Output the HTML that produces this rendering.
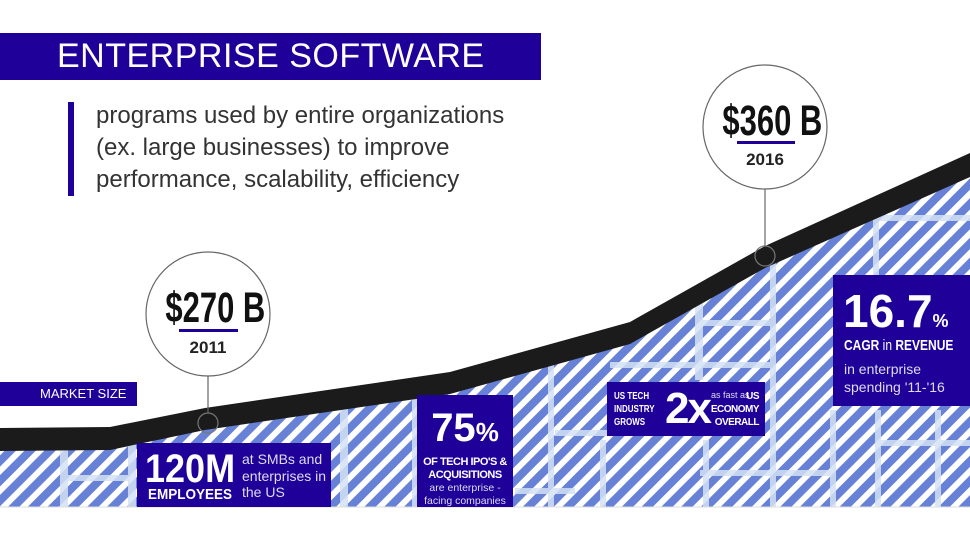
<!DOCTYPE html>
<html><head><meta charset="utf-8"><style>
body{margin:0;width:970px;height:539px;overflow:hidden;background:#fff;font-family:"Liberation Sans",sans-serif;position:relative}
.a{position:absolute;white-space:nowrap}
.db{background:#1f0099;color:#fff}
.cx{display:inline-block;transform:scaleX(.72);transform-origin:center;font-weight:bold;white-space:nowrap}
.cl{display:inline-block;transform:scaleX(.8);transform-origin:left;font-weight:bold;white-space:nowrap}
</style></head><body>
<svg class="a" style="left:0;top:0" width="970" height="539">
<defs>
<pattern id="st" width="14" height="14" patternUnits="userSpaceOnUse" patternTransform="rotate(45)">
<rect width="14" height="14" fill="#fff"/><rect width="8" height="14" fill="#6681d6"/>
</pattern>
<clipPath id="cp"><path d="M0,440 L110,438 L205,418 L450,383 L630,333 L765,257 L970,164 L970,507 L0,507Z"/></clipPath>
</defs>
<g clip-path="url(#cp)">
<rect width="970" height="539" fill="url(#st)"/>
<g fill="#d4e2f4" opacity=".85">
<rect x="60" y="440" width="8" height="70"/><rect x="128" y="440" width="8" height="70"/>
<rect x="60" y="475" width="70" height="6"/>
<rect x="340" y="400" width="8" height="110"/><rect x="412" y="390" width="5" height="120"/>
<rect x="548" y="350" width="6" height="160"/><rect x="515" y="488" width="60" height="6"/>
<rect x="555" y="430" width="70" height="6"/><rect x="600" y="440" width="6" height="70"/>
<rect x="695" y="300" width="8" height="80"/><rect x="700" y="320" width="70" height="6"/>
<rect x="703" y="440" width="6" height="70"/><rect x="700" y="470" width="130" height="6"/>
<rect x="770" y="260" width="6" height="250"/><rect x="830" y="410" width="6" height="100"/>
<rect x="873" y="190" width="6" height="90"/><rect x="873" y="215" width="100" height="6"/>
<rect x="875" y="410" width="6" height="100"/><rect x="880" y="440" width="90" height="6"/>
<rect x="935" y="410" width="6" height="100"/><rect x="610" y="362" width="160" height="6"/>
</g>
</g>
<path d="M0,428 L110,427 L205,408 L450,372 L630,322 L765,246 L970,153 L970,177 L765,268 L630,344 L450,394 L205,430 L110,450 L0,451Z" fill="#1b1b1b"/>
<line x1="0" y1="507" x2="970" y2="507" stroke="#ddd"/>
<g fill="#fff" stroke="#666" stroke-width="1.2">
<line x1="208" y1="376" x2="208" y2="413"/><circle cx="208" cy="314" r="62"/>
<line x1="765" y1="189" x2="765" y2="246"/><circle cx="765" cy="127" r="62"/>
</g>
<circle cx="208" cy="423" r="10" fill="none" stroke="#777" stroke-width="1.2"/>
<circle cx="765" cy="256" r="10" fill="none" stroke="#777" stroke-width="1.2"/>
<rect x="179" y="329" width="59" height="3" fill="#1f0099"/>
<rect x="737" y="141" width="58" height="3" fill="#1f0099"/>
</svg>
<div class="a db" style="left:0;top:33px;width:541px;height:47px;font-size:34px;line-height:47px;letter-spacing:.5px"><span style="margin-left:57px">ENTERPRISE SOFTWARE</span></div>
<div class="a" style="left:68px;top:102px;width:6px;height:94px;background:#1f0099"></div>
<div class="a" style="left:96px;top:100px;font-size:24px;line-height:32px;color:#333">programs used by entire organizations<br>(ex. large businesses) to improve<br>performance, scalability, efficiency</div>
<div class="a" style="left:146px;top:284px;width:124px;text-align:center;font-size:43px;color:#111"><span class="cx">$270 B</span></div>
<div class="a" style="left:146px;top:338px;width:124px;text-align:center;font-size:17px;font-weight:bold;color:#222">2011</div>
<div class="a" style="left:703px;top:97px;width:124px;text-align:center;font-size:43px;color:#111"><span class="cx">$360 B</span></div>
<div class="a" style="left:703px;top:150px;width:124px;text-align:center;font-size:17px;font-weight:bold;color:#222">2016</div>
<div class="a db" style="left:0;top:382px;width:137px;height:24px;font-size:13px;line-height:24px"><span style="margin-left:40px">MARKET SIZE</span></div>
<div class="a db" style="left:137px;top:443px;width:194px;height:64px">
<div class="a" style="left:8px;top:5px;font-size:40px;line-height:42px"><span class="cl" style="transform:scaleX(.9)">120M</span></div>
<div class="a" style="left:11px;top:43px;font-size:15px;line-height:18px"><span class="cl" style="transform:scaleX(.9)">EMPLOYEES</span></div>
<div class="a" style="left:105px;top:8px;font-size:14px;line-height:16.5px;color:#dde">at SMBs and<br>enterprises in<br>the US</div></div>
<div class="a db" style="left:417px;top:395px;width:96px;height:112px;text-align:center">
<div style="font-size:40px;font-weight:bold;margin-top:12px;line-height:42px">75<span style="font-size:26px">%</span></div>
<div style="font-size:11px;font-weight:bold;line-height:13px;margin-top:3px;letter-spacing:-.5px">OF TECH IPO'S &amp;<br>ACQUISITIONS</div>
<div style="font-size:10.5px;line-height:13px;color:#dde">are enterprise -<br>facing companies</div></div>
<div class="a db" style="left:607px;top:382px;width:158px;height:54px">
<div class="a" style="left:7px;top:8px;font-size:10px;line-height:13px"><span class="cl">US TECH<br>INDUSTRY<br>GROWS</span></div>
<div class="a" style="left:58px;top:4px;font-size:44px;font-weight:bold;line-height:46px;letter-spacing:-2px">2x</div>
<div class="a" style="left:104px;top:8px;font-size:9px;color:#dde">as fast as</div>
<div class="a" style="right:6px;top:8px;font-size:10px;line-height:13px;text-align:right;font-weight:bold;letter-spacing:-.5px">US<br>ECONOMY<br>OVERALL</div></div>
<div class="a db" style="left:833px;top:275px;width:137px;height:131px">
<div class="a" style="left:10px;top:12px;font-size:46px;font-weight:bold;line-height:48px">16.7<span style="font-size:18px">%</span></div>
<div class="a" style="left:11px;top:62px;font-size:15px"><span class="cl">CAGR <span style="font-weight:normal">in</span> REVENUE</span></div>
<div class="a" style="left:11px;top:85px;font-size:14px;line-height:18px;color:#dde">in enterprise<br>spending '11-'16</div></div>
</body></html>
